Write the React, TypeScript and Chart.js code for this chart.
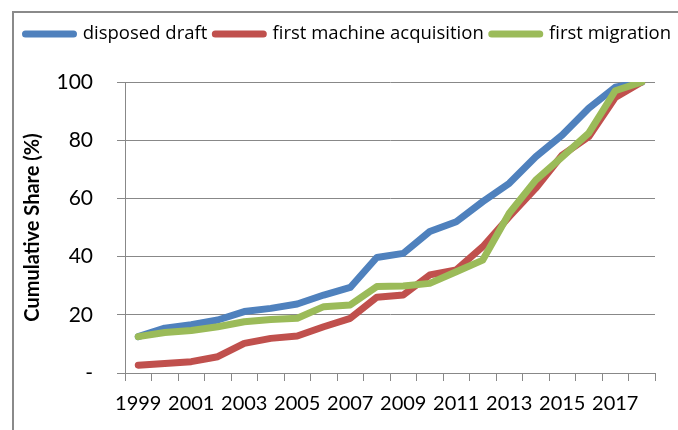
import React, { useEffect, useRef } from "react";
import { Chart, registerables } from "chart.js";

Chart.register(...registerables);

const years = ["1999", "2000", "2001", "2002", "2003", "2004", "2005", "2006", "2007", "2008", "2009", "2010", "2011", "2012", "2013", "2014", "2015", "2016", "2017", "2018"];
const disposedDraft = [12.5, 15.4, 16.6, 18.2, 21.1, 22.2, 23.7, 26.8, 29.4, 39.7, 41.1, 48.6, 52.0, 58.9, 65.2, 74.3, 81.8, 91.0, 98.2, 100];
const firstMachineAcquisition = [2.7, 3.3, 3.9, 5.6, 10.2, 11.9, 12.7, 15.9, 18.8, 26.0, 26.8, 33.7, 35.4, 43.4, 53.7, 63.5, 74.9, 81.2, 94.7, 100];
const firstMigration = [12.5, 13.9, 14.6, 15.9, 17.6, 18.4, 18.8, 22.8, 23.4, 29.7, 29.9, 30.8, 34.8, 38.8, 54.9, 66.3, 74.3, 82.4, 97.0, 100];
const seriesNames = ["disposed draft", "first machine acquisition", "first migration"];
const yTitle = "Cumulative Share (%)";

const FONT = "Lato, 'Open Sans', sans-serif";
const LEGEND_FONT = "'Open Sans', Lato, sans-serif";
const GRID = "#888888";

// keeps the legend on a single row and leaves a gap between it and the plot
const legendSpacer = {
  id: "legendSpacer",
  beforeLayout(chart: any) {
    const lg = chart.legend;
    if (lg && !lg.__patched) {
      const origFit = lg.fit;
      lg.fit = function () {
        this.maxWidth = 2000;
        origFit.call(this);
        this.height += 28.75;
      };
      const origDraw = lg.draw;
      lg.draw = function () {
        const r = this.right;
        this.right = 2000;
        origDraw.call(this);
        this.right = r;
      };
      lg.__patched = true;
    }
  },
};

export default function App() {
  const ref = useRef<HTMLCanvasElement | null>(null);

  useEffect(() => {
    if (!ref.current) return;
    const mk = (label: string, data: number[], color: string, order: number) => ({
      label,
      data,
      borderColor: color,
      backgroundColor: color,
      borderWidth: 7,
      pointRadius: 0,
      tension: 0,
      borderCapStyle: "round" as const,
      borderJoinStyle: "round" as const,
      order,
    });
    const chart = new Chart(ref.current, {
      type: "line",
      data: {
        labels: years,
        datasets: [
          mk(seriesNames[0], disposedDraft, "#4F81BD", 2),
          mk(seriesNames[1], firstMachineAcquisition, "#C0504D", 1),
          mk(seriesNames[2], firstMigration, "#9BBB59", 0),
        ],
      },
      plugins: [legendSpacer],
      options: {
        animation: false,
        responsive: false,
        layout: { padding: { top: 16.75, left: 17.5, right: 23, bottom: 0 } },
        plugins: {
          tooltip: { enabled: false },
          legend: {
            display: true,
            position: "top",
            align: "start",
            labels: {
              boxWidth: 48,
              boxHeight: 0,
              padding: 8,
              color: "#000",
              font: { family: LEGEND_FONT, size: 18.5 },
              sort: (a: any, b: any) => a.datasetIndex - b.datasetIndex,
              generateLabels: (c: any) => {
                const items = Chart.defaults.plugins.legend.labels.generateLabels(c);
                return items.map((it: any) => ({
                  ...it,
                  lineWidth: 7,
                  lineJoin: "round",
                  lineCap: "round",
                  fillStyle: it.strokeStyle,
                }));
              },
            },
          },
        },
        scales: {
          x: {
            type: "category",
            offset: true,
            afterFit: (s: any) => {
              s.height = 57;
            },
            grid: {
              display: true,
              drawOnChartArea: false,
              drawTicks: true,
              tickLength: 8,
              offset: true,
              color: GRID,
            },
            border: { display: true, color: GRID, width: 1 },
            ticks: {
              autoSkip: false,
              maxRotation: 0,
              minRotation: 0,
              padding: 11,
              color: "#000",
              font: { family: FONT, size: 20 },
              callback: function (this: any, val: any, idx: number) {
                return idx % 2 === 0 ? this.getLabelForValue(val) : "";
              },
            },
          },
          y: {
            min: 0,
            max: 100,
            afterFit: (s: any) => {
              s.width = 107.5;
            },
            grid: { color: GRID, tickLength: 8, lineWidth: 1 },
            border: { display: true, color: GRID, width: 1 },
            ticks: {
              stepSize: 20,
              padding: 24,
              color: "#000",
              font: { family: FONT, size: 21 },
              callback: (v: any) => (Number(v) === 0 ? "-" : String(v)),
            },
            title: {
              display: true,
              text: yTitle,
              color: "#000",
              padding: { top: 3, bottom: 0 },
              font: { family: FONT, size: 20, weight: "bold" },
            },
          },
        },
      },
    });
    return () => chart.destroy();
  }, []);

  return (
    <div style={{ position: "fixed", left: 0, top: 0, width: 678, height: 430, overflow: "hidden", background: "#fff" }}>
      <div
        style={{
          position: "absolute",
          left: 12,
          top: 11,
          width: 800,
          height: 600,
          border: "2px solid #8a8a8a",
        }}
      />
      <canvas ref={ref} width={678} height={430} style={{ position: "absolute", left: 0, top: 0, display: "block" }} />
    </div>
  );
}
